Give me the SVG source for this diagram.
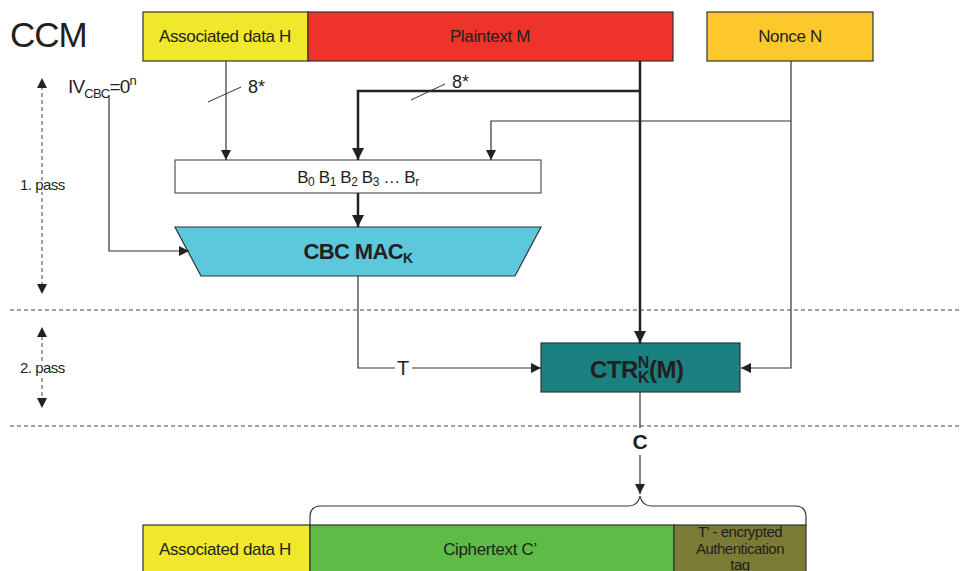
<svg xmlns="http://www.w3.org/2000/svg" width="960" height="571" viewBox="0 0 960 571">
<defs>
<style>
text{font-family:"Liberation Sans",Arial,sans-serif;fill:#231f20}
.lbl{font-size:17px;letter-spacing:-0.35px}
.box{stroke:#333;stroke-width:1.2}
.ln{fill:none;stroke:#333;stroke-width:1.2}
.thk{fill:none;stroke:#222;stroke-width:2.5}
.dash{fill:none;stroke:#444;stroke-width:1;stroke-dasharray:4 3}
</style>
<marker id="ah" viewBox="0 0 10 10" refX="10" refY="5" markerWidth="10" markerHeight="10" markerUnits="userSpaceOnUse" orient="auto"><path d="M0,0 L10,5 L0,10 z" fill="#222"/></marker>
<marker id="ahb" viewBox="0 0 10 10" refX="10" refY="5" markerWidth="12" markerHeight="12" markerUnits="userSpaceOnUse" orient="auto"><path d="M0,0 L10,5 L0,10 z" fill="#222"/></marker>
</defs>
<rect width="960" height="571" fill="#fff"/>

<text x="10" y="47" font-size="35" letter-spacing="-1">CCM</text>

<g id="top-assoc"><rect class="box" x="143" y="12" width="165" height="49" fill="#f0e82a"/><text class="lbl" x="225" y="42" text-anchor="middle">Associated data H</text></g>
<g id="top-plain"><rect class="box" x="308" y="12" width="365" height="49" fill="#ee332b"/><text class="lbl" x="490" y="42" text-anchor="middle">Plaintext M</text></g>
<g id="top-nonce"><rect class="box" x="707" y="12" width="166" height="49" fill="#fdc82b"/><text class="lbl" x="790" y="42" text-anchor="middle">Nonce N</text></g>

<g id="passes">
<line class="dash" x1="10" y1="310" x2="960" y2="310"/>
<line class="dash" x1="10" y1="426" x2="960" y2="426"/>
<line class="dash" x1="42" y1="86" x2="42" y2="286"/>
<path d="M37,88 L42,78 L47,88 z M37,284 L42,294 L47,284 z" fill="#222"/>
<text x="20" y="190" font-size="15" letter-spacing="-0.5" fill="#fff" stroke="#fff" stroke-width="4">1. pass</text>
<text x="20" y="190" font-size="15" letter-spacing="-0.5">1. pass</text>
<line class="dash" x1="42" y1="336" x2="42" y2="400"/>
<path d="M37,337 L42,327 L47,337 z M37,398 L42,408 L47,398 z" fill="#222"/>
<text x="20" y="373" font-size="15" letter-spacing="-0.5" fill="#fff" stroke="#fff" stroke-width="4">2. pass</text>
<text x="20" y="373" font-size="15" letter-spacing="-0.5">2. pass</text>
</g>

<g id="iv"><text x="68" y="93" font-size="19" letter-spacing="-0.8">IV<tspan font-size="13" dy="5">CBC</tspan><tspan dy="-5">=0</tspan><tspan font-size="13" dy="-8">n</tspan></text></g>

<g id="blocks"><rect x="175" y="160" width="366" height="33" fill="#fff" stroke="#555" stroke-width="1.2"/>
<text x="358" y="183" font-size="17" text-anchor="middle" letter-spacing="-0.4">B<tspan font-size="12" dy="3">0</tspan><tspan dy="-3"> B</tspan><tspan font-size="12" dy="3">1</tspan><tspan dy="-3"> B</tspan><tspan font-size="12" dy="3">2</tspan><tspan dy="-3"> B</tspan><tspan font-size="12" dy="3">3</tspan><tspan dy="-3"> … B</tspan><tspan font-size="12" dy="3">r</tspan></text></g>

<g id="cbcmac"><path d="M175,227 L541,227 L515,276 L201,276 z" fill="#5bc8dc" stroke="#333" stroke-width="1.2"/>
<text x="358" y="259" font-size="22" font-weight="bold" text-anchor="middle" letter-spacing="-0.6">CBC MAC<tspan font-size="14" dy="4">K</tspan></text></g>

<g id="ctr"><rect class="box" x="541" y="343" width="199" height="49" fill="#1a8080"/>
<text x="590" y="378" font-size="24" font-weight="bold" letter-spacing="-0.5">CTR<tspan font-size="16" dy="-10">N</tspan><tspan font-size="16" dx="-11" dy="15">K</tspan><tspan dy="-5">(M)</tspan></text></g>

<g id="connectors">
<line class="ln" x1="226" y1="61" x2="226" y2="160" marker-end="url(#ah)"/>
<line x1="208" y1="102" x2="241" y2="87" stroke="#333" stroke-width="1"/>
<text x="248" y="93" font-size="18">8*</text>
<path class="thk" d="M640,61 L640,343" marker-end="url(#ahb)"/>
<path class="thk" d="M640,91 L358,91 L358,160" marker-end="url(#ahb)"/>
<line x1="411" y1="100" x2="445" y2="84" stroke="#333" stroke-width="1"/>
<text x="452" y="88" font-size="18">8*</text>
<path class="ln" d="M791,61 L791,368 L741,368" marker-end="url(#ah)"/>
<path class="ln" d="M791,121 L491,121 L491,160" marker-end="url(#ah)"/>
<path class="ln" d="M109,95 L109,251 L189,251" marker-end="url(#ah)"/>
<path class="thk" d="M358,193 L358,227" marker-end="url(#ahb)"/>
<path class="ln" d="M358,276 L358,368 L541,368" marker-end="url(#ah)"/>
<rect x="395" y="357" width="17" height="22" fill="#fff"/>
<text x="403" y="375" font-size="20" text-anchor="middle">T</text>
<line class="ln" x1="640" y1="392" x2="640" y2="428"/>
<text x="640" y="449" font-size="21" font-weight="bold" text-anchor="middle">C</text>
<line class="ln" x1="640" y1="455" x2="640" y2="494" marker-end="url(#ah)"/>
<path class="ln" d="M310,526 L310,517 Q310,506 321,506 L628,506 Q638,506 640,496 Q642,506 652,506 L795,506 Q806,506 806,517 L806,526"/>
</g>

<g id="bottom-assoc"><rect class="box" x="143" y="525" width="167" height="50" fill="#f0e82a"/><text class="lbl" x="225" y="555" text-anchor="middle">Associated data H</text></g>
<g id="bottom-cipher"><rect class="box" x="310" y="525" width="364" height="50" fill="#5dbb46"/><text class="lbl" x="490" y="555" text-anchor="middle">Ciphertext C’</text></g>
<g id="bottom-tag"><rect class="box" x="674" y="525" width="132" height="50" fill="#7b7b35"/>
<text x="740" y="537" font-size="15" letter-spacing="-0.5" text-anchor="middle">T’ - encrypted</text>
<text x="740" y="554" font-size="15" letter-spacing="-0.5" text-anchor="middle">Authentication</text>
<text x="740" y="570" font-size="15" letter-spacing="-0.5" text-anchor="middle">tag</text></g>
</svg>
